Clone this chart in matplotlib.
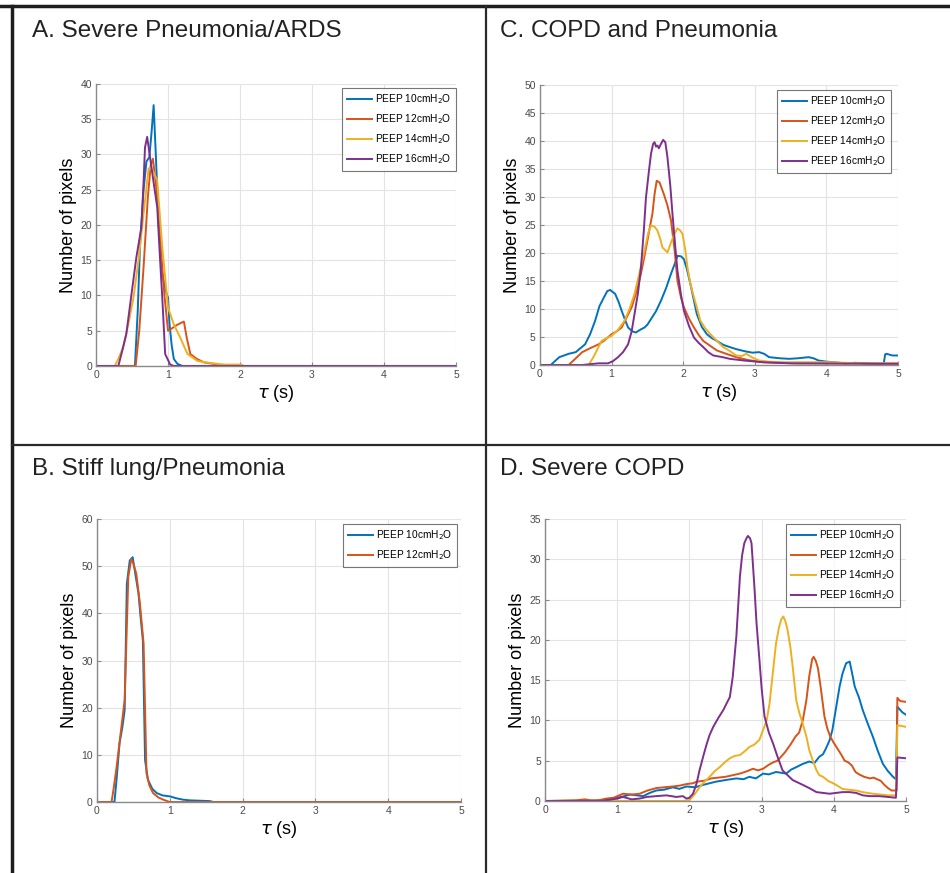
import numpy as np
import matplotlib
matplotlib.use("Agg")
import matplotlib.pyplot as plt
from matplotlib.lines import Line2D

plt.rcParams['font.family'] = ['Liberation Sans', 'DejaVu Sans']

COLORS = ['#0072BD', '#D95319', '#EDB120', '#7E2F8E']
LABELS = ['PEEP 10cmH$_2$O', 'PEEP 12cmH$_2$O', 'PEEP 14cmH$_2$O', 'PEEP 16cmH$_2$O']

# ---- A. Severe Pneumonia/ARDS ----
a_x10 = [0, 0.54, 0.58, 0.61, 0.66, 0.70, 0.74, 0.77, 0.80, 0.83, 0.87, 0.92, 0.98, 1.00, 1.02, 1.05, 1.08, 1.13, 1.20, 5]
a_y10 = [0, 0, 8, 17, 25, 29, 29.6, 33, 37, 30, 20, 13, 10.2, 9.7, 6, 3, 1, 0.3, 0, 0]
a_x12 = [0, 0.55, 0.60, 0.66, 0.72, 0.76, 0.79, 0.84, 0.89, 0.95, 1.00, 1.05, 1.12, 1.22, 1.26, 1.31, 1.40, 1.50, 1.69, 1.80, 5]
a_y12 = [0, 0, 5, 14, 24, 28.5, 29.4, 25, 18.2, 10, 5, 5.3, 5.8, 6.3, 4, 1.7, 1, 0.5, 0.2, 0, 0]
a_x14 = [0, 0.26, 0.30, 0.375, 0.45, 0.52, 0.59, 0.66, 0.73, 0.75, 0.80, 0.85, 0.92, 1.00, 1.08, 1.17, 1.27, 1.41, 1.60, 1.78, 2.02, 2.05, 5]
a_y14 = [0, 0, 0.8, 2.6, 6, 9.7, 15, 21.6, 28, 28.1, 27.5, 26.3, 16.8, 8.3, 5.9, 4, 1.7, 0.7, 0.4, 0.2, 0.2, 0, 0]
a_x16 = [0, 0.31, 0.36, 0.42, 0.49, 0.56, 0.63, 0.66, 0.68, 0.71, 0.75, 0.80, 0.85, 0.89, 0.92, 0.96, 1.03, 1.08, 5]
a_y16 = [0, 0, 2, 4.5, 10, 15.4, 19.7, 26, 31, 32.5, 29.6, 26, 22.5, 15, 9.7, 1.7, 0.2, 0, 0]

# ---- C. COPD and Pneumonia ----
c_x10 = [0, 0.15, 0.27, 0.40, 0.50, 0.63, 0.70, 0.77, 0.83, 0.89, 0.94, 0.98, 1.02, 1.05, 1.10, 1.14, 1.19, 1.23, 1.29, 1.34,
         1.40, 1.46, 1.50, 1.55, 1.62, 1.69, 1.76, 1.83, 1.88, 1.92, 1.97, 2.01, 2.05, 2.10, 2.15, 2.19, 2.26, 2.33, 2.40,
         2.47, 2.56, 2.65, 2.75, 2.88, 2.97, 3.06, 3.13, 3.20, 3.35, 3.48, 3.60, 3.75, 3.82, 3.89, 4.00, 4.10, 4.26, 4.40,
         4.55, 4.70, 4.80, 4.82, 4.84, 4.92, 5.0]
c_y10 = [0, 0, 1.4, 2.0, 2.3, 3.7, 5.5, 7.9, 10.5, 12.0, 13.2, 13.4, 13.0, 12.7, 11.2, 9.7, 8.0, 6.7, 6.0, 5.8,
         6.3, 6.7, 7.2, 8.2, 9.6, 11.5, 13.7, 16.3, 18.0, 19.5, 19.4, 18.9, 17.2, 14.5, 11.5, 9.1, 6.8, 5.5, 4.8,
         4.3, 3.6, 3.2, 2.8, 2.4, 2.2, 2.3, 2.0, 1.4, 1.2, 1.1, 1.2, 1.4, 1.2, 0.8, 0.6, 0.5, 0.3, 0.4,
         0.3, 0.2, 0.2, 1.9, 2.0, 1.7, 1.7]
c_x12 = [0, 0.40, 0.50, 0.59, 0.70, 0.82, 0.90, 1.00, 1.07, 1.14, 1.21, 1.28, 1.35, 1.41, 1.46, 1.50, 1.54, 1.57, 1.60,
         1.63, 1.67, 1.73, 1.78, 1.83, 1.88, 1.92, 1.97, 2.01, 2.08, 2.15, 2.22, 2.28, 2.38, 2.47, 2.60, 2.74, 2.90, 3.11,
         3.30, 3.57, 4.00, 5.0]
c_y12 = [0, 0, 1.2, 2.3, 3.0, 3.7, 4.4, 5.5, 6.0, 6.7, 8.5, 10.3, 13.2, 16.3, 19.5, 22.2, 25.0, 27.0, 30.5,
         32.9, 32.6, 30.5, 28.5, 25.8, 20.5, 15.0, 12.0, 10.3, 8.3, 6.7, 5.3, 4.3, 3.4, 2.6, 2.0, 1.4, 0.9, 0.5,
         0.4, 0.3, 0.3, 0.3]
c_x14 = [0, 0.68, 0.75, 0.86, 0.93, 1.00, 1.09, 1.18, 1.25, 1.32, 1.39, 1.46, 1.51, 1.55, 1.60, 1.64, 1.68, 1.71, 1.75,
         1.78, 1.83, 1.88, 1.92, 1.96, 1.99, 2.03, 2.06, 2.10, 2.15, 2.20, 2.24, 2.31, 2.38, 2.47, 2.56, 2.65, 2.74, 2.82,
         2.88, 2.97, 3.06, 3.20, 3.39, 3.70, 4.03, 4.49, 5.0]
c_y14 = [0, 0, 1.5, 4.3, 4.8, 5.2, 6.3, 7.9, 10.0, 12.7, 16.5, 20.4, 23.5, 24.9, 24.7, 24.0, 22.5, 21.0, 20.5,
         20.1, 21.9, 23.5, 24.4, 24.0, 23.4, 20.5, 17.4, 14.5, 12.1, 9.8, 7.9, 6.5, 5.5, 4.3, 3.2, 2.5, 1.7, 1.6,
         2.0, 1.3, 0.8, 0.6, 0.5, 0.5, 0.5, 0.3, 0.3]
c_x16 = [0, 0.59, 0.82, 0.95, 1.02, 1.09, 1.16, 1.23, 1.28, 1.32, 1.37, 1.41, 1.45, 1.48, 1.52, 1.55, 1.58, 1.60, 1.62,
         1.64, 1.66, 1.69, 1.72, 1.75, 1.78, 1.82, 1.85, 1.89, 1.92, 1.97, 2.01, 2.08, 2.15, 2.22, 2.28, 2.35, 2.42, 2.55,
         2.65, 2.85, 3.11, 3.50, 5.0]
c_y16 = [0, 0, 0.3, 0.3, 0.7, 1.4, 2.3, 3.7, 6.0, 9.1, 13.0, 17.4, 24.0, 29.9, 34.5, 37.7, 39.5, 39.8, 39.0,
         39.2, 38.7, 39.5, 40.2, 39.8, 37.1, 32.0, 27.0, 21.0, 16.8, 12.5, 9.7, 7.0, 4.9, 3.9, 3.2, 2.3, 1.7, 1.4,
         1.1, 0.8, 0.5, 0.3, 0.2]

# ---- B. Stiff lung/Pneumonia ----
b_x10 = [0, 0.24, 0.27, 0.31, 0.35, 0.38, 0.41, 0.45, 0.49, 0.53, 0.57, 0.60, 0.63, 0.66, 0.70, 0.76, 0.82, 0.90, 1.00,
         1.09, 1.18, 1.28, 1.55, 1.60, 5]
b_y10 = [0, 0, 5, 12.5, 16, 19.5, 46.3, 51.2, 51.9, 48, 44.2, 39, 34.3, 8.9, 4.7, 2.8, 1.9, 1.4, 1.2,
         0.8, 0.5, 0.35, 0.2, 0, 0]
b_x12 = [0, 0.20, 0.23, 0.27, 0.32, 0.38, 0.43, 0.47, 0.50, 0.54, 0.59, 0.64, 0.68, 0.72, 0.77, 0.84, 0.91, 1.0, 5]
b_y12 = [0, 0, 3, 7.5, 14, 21.6, 47.7, 51.5, 50.5, 48.4, 42, 33.6, 6.1, 3.5, 1.9, 1.0, 0.5, 0, 0]

# ---- D. Severe COPD ----
d_x10 = [0, 0.70, 0.85, 1.00, 1.10, 1.18, 1.27, 1.36, 1.45, 1.54, 1.65, 1.77, 1.86, 1.96, 2.08, 2.19, 2.28, 2.37, 2.50,
         2.65, 2.75, 2.83, 2.92, 3.02, 3.10, 3.20, 3.27, 3.34, 3.41, 3.48, 3.57, 3.66, 3.73, 3.80, 3.85, 3.89, 3.94, 3.98,
         4.03, 4.08, 4.12, 4.17, 4.22, 4.25, 4.29, 4.35, 4.40, 4.47, 4.54, 4.61, 4.68, 4.75, 4.82, 4.86, 4.87, 4.88, 4.95, 5.0]
d_y10 = [0, 0, 0.2, 0.4, 0.6, 0.8, 0.7, 0.6, 1.0, 1.3, 1.4, 1.7, 1.5, 1.8, 1.7, 2.0, 2.2, 2.4, 2.6,
         2.8, 2.7, 3.0, 2.8, 3.4, 3.3, 3.6, 3.5, 3.4, 3.9, 4.2, 4.6, 4.9, 4.7, 5.5, 5.8, 6.5, 7.5, 8.8,
         11.5, 14.2, 15.8, 17.1, 17.3, 16.0, 14.2, 12.8, 11.3, 9.6, 8.0, 6.2, 4.6, 3.7, 3.0, 2.7, 7.0, 11.7, 11.0, 10.7]
d_x12 = [0, 0.44, 0.55, 0.62, 0.75, 0.85, 0.95, 1.08, 1.20, 1.31, 1.42, 1.54, 1.65, 1.77, 1.86, 1.96, 2.05, 2.10, 2.20,
         2.30, 2.40, 2.50, 2.60, 2.70, 2.80, 2.88, 2.95, 3.02, 3.10, 3.16, 3.22, 3.27, 3.32, 3.40, 3.47, 3.52, 3.57, 3.62,
         3.66, 3.70, 3.72, 3.75, 3.78, 3.82, 3.87, 3.91, 3.95, 4.00, 4.05, 4.10, 4.15, 4.20, 4.25, 4.30, 4.35, 4.42, 4.50,
         4.55, 4.60, 4.65, 4.70, 4.75, 4.80, 4.87, 4.88, 4.92, 5.0]
d_y12 = [0, 0.1, 0.2, 0.1, 0.1, 0.3, 0.4, 0.9, 0.8, 0.9, 1.3, 1.6, 1.7, 1.8, 1.9, 2.1, 2.2, 2.4, 2.5,
         2.8, 2.9, 3.0, 3.2, 3.4, 3.7, 4.0, 3.8, 4.0, 4.5, 4.8, 5.0, 5.5, 6.0, 7.0, 8.0, 8.5, 10.0, 12.5,
         15.5, 17.6, 17.9, 17.4, 16.5, 14.0, 10.5, 9.0, 8.0, 7.2, 6.5, 5.8, 5.0, 4.8, 4.4, 3.6, 3.3, 3.0, 2.8,
         2.9, 2.7, 2.5, 2.0, 1.6, 1.3, 1.3, 12.8, 12.4, 12.3]
d_x14 = [0, 1.90, 2.00, 2.07, 2.14, 2.21, 2.28, 2.35, 2.42, 2.49, 2.56, 2.63, 2.70, 2.77, 2.83, 2.90, 2.97, 3.02, 3.07,
         3.11, 3.16, 3.20, 3.24, 3.27, 3.30, 3.33, 3.36, 3.40, 3.43, 3.48, 3.52, 3.57, 3.62, 3.66, 3.71, 3.76, 3.80, 3.85,
         3.92, 3.99, 4.05, 4.12, 4.20, 4.31, 4.40, 4.54, 4.65, 4.75, 4.86, 4.87, 4.88, 5.0]
d_y14 = [0, 0, 0.1, 0.8, 1.7, 2.4, 3.0, 3.7, 4.2, 4.8, 5.3, 5.6, 5.7, 6.2, 6.7, 7.0, 7.6, 8.8, 10.0,
         12.1, 16.3, 19.6, 21.5, 22.5, 22.9, 22.3, 21.2, 19.0, 16.7, 12.5, 11.0, 9.6, 8.0, 6.3, 5.0, 3.8, 3.2, 3.0,
         2.5, 2.2, 1.9, 1.5, 1.4, 1.3, 1.1, 0.9, 0.8, 0.7, 0.7, 4.0, 9.4, 9.2]
d_x16 = [0, 0.80, 1.00, 1.08, 1.20, 1.31, 1.41, 1.54, 1.68, 1.82, 1.91, 1.96, 2.00, 2.05, 2.10, 2.14, 2.19, 2.24, 2.28,
         2.33, 2.40, 2.47, 2.52, 2.56, 2.60, 2.65, 2.70, 2.73, 2.76, 2.79, 2.81, 2.84, 2.86, 2.90, 2.93, 2.97, 3.00, 3.04,
         3.10, 3.16, 3.22, 3.29, 3.36, 3.43, 3.50, 3.57, 3.66, 3.76, 3.85, 3.94, 4.03, 4.12, 4.22, 4.31, 4.40, 4.50, 4.63,
         4.75, 4.86, 4.87, 4.88, 5.0]
d_y16 = [0, 0, 0.3, 0.5, 0.2, 0.3, 0.5, 0.6, 0.7, 0.5, 0.6, 0.3, 0.4, 0.9, 2.2, 3.8, 5.5, 7.1, 8.2,
         9.2, 10.3, 11.3, 12.2, 12.9, 15.4, 20.4, 27.9, 30.5, 32.0, 32.6, 32.9, 32.6, 32.0, 26.6, 22.0, 17.5, 14.0, 10.5,
         8.5, 7.1, 5.5, 3.8, 3.2, 2.6, 2.3, 2.0, 1.6, 1.1, 1.0, 0.9, 1.0, 1.1, 1.1, 1.0, 0.7, 0.6, 0.6,
         0.5, 0.4, 2.5, 5.4, 5.3]

panels = [
    dict(title='A. Severe Pneumonia/ARDS', pos=[0.1011, 0.5808, 0.3789, 0.3230], ymax=40, ystep=5,
         series=[(a_x10, a_y10), (a_x12, a_y12), (a_x14, a_y14), (a_x16, a_y16)],
         tpos=(32 / 950, 1 - 31 / 873), leg=(1.0, 0.986)),
    dict(title='C. COPD and Pneumonia', pos=[0.5684, 0.5819, 0.3769, 0.3207], ymax=50, ystep=5,
         series=[(c_x10, c_y10), (c_x12, c_y12), (c_x14, c_y14), (c_x16, c_y16)],
         tpos=(500 / 950, 1 - 31 / 873), leg=(0.980, 0.982)),
    dict(title='B. Stiff lung/Pneumonia', pos=[0.1021, 0.0813, 0.3832, 0.3242], ymax=60, ystep=10,
         series=[(b_x10, b_y10), (b_x12, b_y12)],
         tpos=(32 / 950, 1 - 469 / 873), leg=(0.989, 0.982)),
    dict(title='D. Severe COPD', pos=[0.5737, 0.0825, 0.3800, 0.3230], ymax=35, ystep=5,
         series=[(d_x10, d_y10), (d_x12, d_y12), (d_x14, d_y14), (d_x16, d_y16)],
         tpos=(500 / 950, 1 - 469 / 873), leg=(0.983, 0.982)),
]

fig = plt.figure(figsize=(9.5, 8.73), dpi=100)

for p in panels:
    ax = fig.add_axes(p['pos'])
    for (x, y), c, lab in zip(p['series'], COLORS, LABELS):
        ax.plot(x, y, color=c, lw=1.4, label=lab)
    ax.set_xlim(0, 5)
    ax.set_ylim(0, p['ymax'])
    ax.set_xticks(range(0, 6))
    ax.set_yticks(np.arange(0, p['ymax'] + 1, p['ystep']))
    ax.grid(True, color='#e3e3e3', lw=0.8)
    ax.set_axisbelow(True)
    for s in ['top', 'right']:
        ax.spines[s].set_visible(False)
    for s in ['left', 'bottom']:
        ax.spines[s].set_color('#8a8a8a')
        ax.spines[s].set_linewidth(1.0)
    ax.tick_params(direction='in', length=3, width=0.8, color='#8a8a8a',
                   labelsize=7.5, labelcolor='#4a4a4a', pad=3)
    ax.set_ylabel('Number of pixels', fontsize=13, labelpad=2)
    ax.set_xlabel(r'$\tau$ (s)', fontsize=13, labelpad=2)
    leg = ax.legend(loc='upper right', bbox_to_anchor=p['leg'], fontsize=7.3, frameon=True,
                    fancybox=False, edgecolor='#555555', handlelength=2.5, borderpad=0.45,
                    labelspacing=0.6, handletextpad=0.3, borderaxespad=0)
    leg.get_frame().set_linewidth(0.8)
    fig.text(p['tpos'][0], p['tpos'][1], p['title'], fontsize=17.5, color='#222222',
             ha='left', va='center')

# table-like frame
fig.add_artist(Line2D([0, 1], [1 - 6 / 873, 1 - 6 / 873], color='#1e1e1e', lw=2.5))
fig.add_artist(Line2D([12 / 950, 12 / 950], [0, 1 - 6 / 873], color='#1e1e1e', lw=2.5))
fig.add_artist(Line2D([486 / 950, 486 / 950], [0, 1 - 6 / 873], color='#2a2a2a', lw=1.6))
fig.add_artist(Line2D([12 / 950, 1], [1 - 445 / 873, 1 - 445 / 873], color='#2a2a2a', lw=1.6))

fig.savefig('out.png', dpi=100)
